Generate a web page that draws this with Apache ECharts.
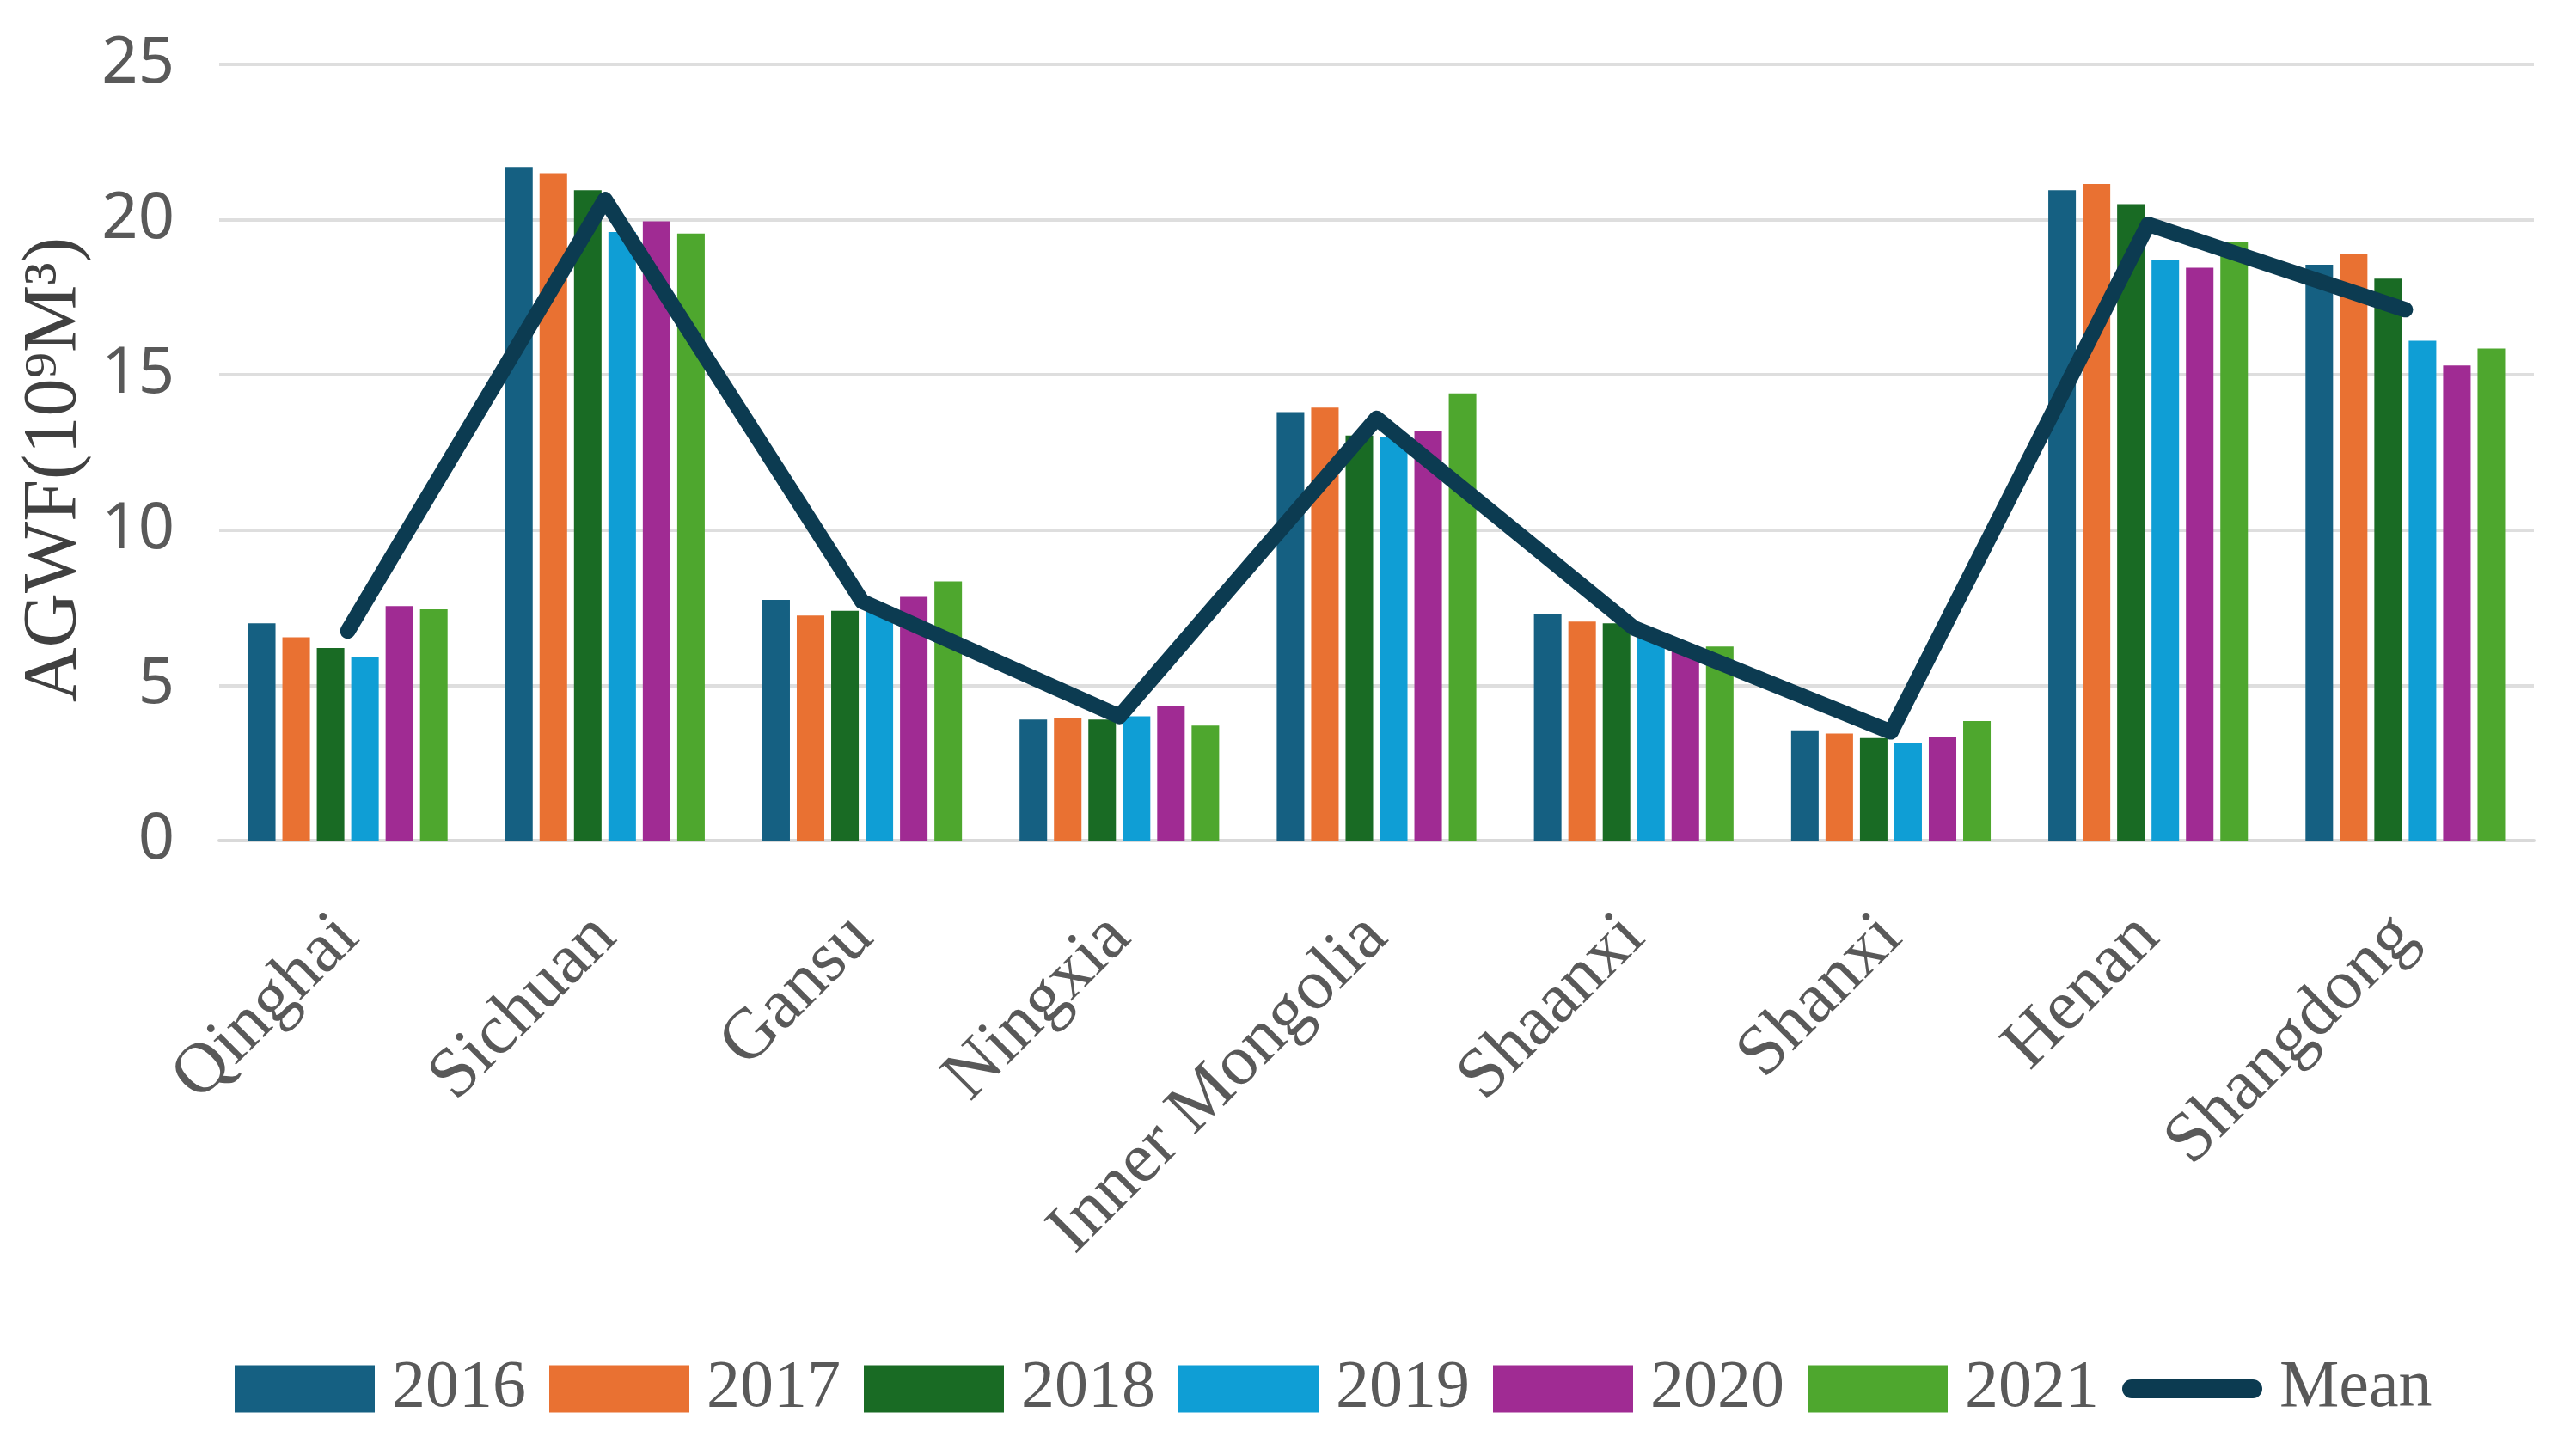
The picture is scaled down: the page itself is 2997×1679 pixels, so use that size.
<!DOCTYPE html>
<html>
<head>
<meta charset="utf-8">
<script src="https://cdn.jsdelivr.net/npm/echarts@6/dist/echarts.min.js"></script>
<style>
html,body{margin:0;padding:0;background:#fff;}
#chart{width:2997px;height:1679px;}
</style>
</head>
<body>
<div id="chart"></div>
<script>
const categories = ['Qinghai','Sichuan','Gansu','Ningxia','Inner Mongolia','Shaanxi','Shanxi','Henan','Shangdong'];
const years = ['2016','2017','2018','2019','2020','2021'];
const v2016 = [7.0, 21.7, 7.75, 3.9, 13.8, 7.3, 3.55, 20.95, 18.55];
const v2017 = [6.55, 21.5, 7.25, 3.95, 13.95, 7.05, 3.45, 21.15, 18.9];
const v2018 = [6.2, 20.95, 7.4, 3.9, 13.05, 7.0, 3.3, 20.5, 18.1];
const v2019 = [5.9, 19.6, 7.5, 4.0, 13.0, 6.6, 3.15, 18.7, 16.1];
const v2020 = [7.55, 19.95, 7.85, 4.35, 13.2, 6.2, 3.35, 18.45, 15.3];
const v2021 = [7.45, 19.55, 8.35, 3.7, 14.4, 6.25, 3.85, 19.3, 15.85];
const meanValues = [6.75, 20.65, 7.7, 4.0, 13.6, 6.85, 3.5, 19.85, 17.1];
const yTicks = [0, 5, 10, 15, 20, 25];

const yearValues = [v2016, v2017, v2018, v2019, v2020, v2021];
const barColors = ['#156082', '#E97132', '#196B24', '#0F9ED5', '#A02B93', '#4EA72E'];
const lineColor = '#0c3b51';
const serif = '"Liberation Serif", "DejaVu Serif", serif';
// rounded thick-line legend icon (163 x 55 box, stroke ~22 high, centred)
const meanIcon = 'path://M0,0L0.01,0L0.01,0.01L0,0.01Z' +
  'M11,16.5L152,16.5A11,11 0 0 1 152,38.5L11,38.5A11,11 0 0 1 11,16.5Z' +
  'M163,55L162.99,55L162.99,54.99L163,54.99Z';

const chart = echarts.init(document.getElementById('chart'), null, {renderer: 'canvas'});

const series = years.map((y, i) => ({
  name: y,
  type: 'bar',
  data: yearValues[i],
  barGap: '25%',
  barCategoryGap: '22.4%',
  itemStyle: {color: barColors[i]},
  z: 2
}));
series.push({
  name: 'Mean',
  type: 'line',
  data: meanValues,
  symbol: 'none',
  showSymbol: false,
  lineStyle: {color: lineColor, width: 18, cap: 'round', join: 'round'},
  itemStyle: {color: lineColor},
  z: 5
});

chart.setOption({
  backgroundColor: '#ffffff',
  animation: false,
  grid: {left: 255, right: 49, top: 75, bottom: 701, containLabel: false},
  legend: {
    data: years.map(y => ({name: y, icon: 'rect'})).concat([{name: 'Mean', icon: meanIcon}]),
    left: 268,
    top: 1572,
    itemWidth: 163,
    itemHeight: 55,
    itemGap: 27,
    symbolKeepAspect: false,
    textStyle: {fontFamily: serif, fontSize: 78, color: '#595959', padding: [0, 0, 0, 15]}
  },
  xAxis: {
    type: 'category',
    data: categories,
    axisLine: {show: true, lineStyle: {color: '#d9d9d9', width: 4}},
    axisTick: {show: false},
    axisLabel: {
      interval: 0,
      rotate: 45,
      margin: 100,
      fontFamily: serif,
      fontSize: 83,
      color: '#595959'
    }
  },
  yAxis: {
    type: 'value',
    min: yTicks[0],
    max: yTicks[yTicks.length - 1],
    interval: 5,
    name: 'AGWF(10⁹M³)',
    nameLocation: 'middle',
    nameGap: 128,
    nameTextStyle: {fontFamily: serif, fontSize: 88, color: '#404040', padding: [0, 40, 0, 0]},
    axisLine: {show: false},
    axisTick: {show: false},
    axisLabel: {margin: 52, fontFamily: '"Noto Sans", sans-serif', fontSize: 74, color: '#595959'},
    splitLine: {show: true, lineStyle: {color: '#dedede', width: 4}}
  },
  series: series
});
</script>
</body>
</html>
